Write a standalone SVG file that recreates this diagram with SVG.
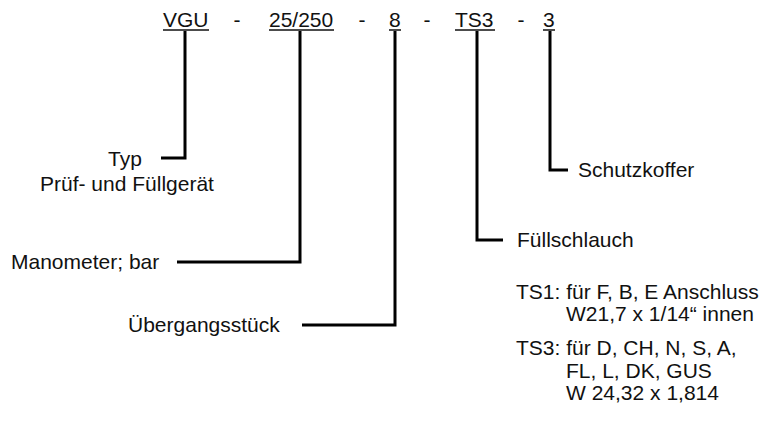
<svg xmlns="http://www.w3.org/2000/svg" width="782" height="422" viewBox="0 0 782 422">
<style>
text{font-family:"Liberation Sans",Arial,sans-serif;font-size:21px;fill:#111}
.mid{text-anchor:middle}
.ul{stroke:#111;stroke-width:1.5}
.conn{fill:none;stroke:#000;stroke-width:3}
</style>
<rect width="782" height="422" fill="#fff"/>
<g id="code">
<text x="163" y="27">VGU</text>
<text class="mid" x="237" y="27">-</text>
<text x="269" y="27">25/250</text>
<text class="mid" x="362" y="27">-</text>
<text x="389" y="27">8</text>
<text class="mid" x="427" y="27">-</text>
<text x="455" y="27">TS3</text>
<text class="mid" x="521" y="27">-</text>
<text x="543" y="27">3</text>
<line class="ul" x1="163" y1="30" x2="209" y2="30"/>
<line class="ul" x1="269" y1="30" x2="334" y2="30"/>
<line class="ul" x1="389" y1="30" x2="401" y2="30"/>
<line class="ul" x1="455" y1="30" x2="495" y2="30"/>
<line class="ul" x1="543" y1="30" x2="555" y2="30"/>
</g>
<g id="connectors">
<polyline class="conn" points="185,31 185,158 161,158"/>
<polyline class="conn" points="300,31 300,262 177,262"/>
<polyline class="conn" points="395,31 395,325 302,325"/>
<polyline class="conn" points="477,31 477,240 503,240"/>
<polyline class="conn" points="550,31 550,170 568,170"/>
</g>
<g id="typ">
<text x="108" y="166">Typ</text>
<text x="40" y="191">Prüf- und Füllgerät</text>
</g>
<g id="manometer"><text x="11" y="269">Manometer; bar</text></g>
<g id="uebergang"><text x="128" y="332">Übergangsstück</text></g>
<g id="fuellschlauch">
<text x="517" y="247">Füllschlauch</text>
<text x="516" y="299">TS1: für F, B, E Anschluss</text>
<text x="566" y="321">W21,7 x 1/14“ innen</text>
<text x="516" y="355">TS3: für D, CH, N, S, A,</text>
<text x="566" y="378">FL, L, DK, GUS</text>
<text x="566" y="400">W 24,32 x 1,814</text>
</g>
<g id="schutzkoffer"><text x="578" y="177">Schutzkoffer</text></g>
</svg>
